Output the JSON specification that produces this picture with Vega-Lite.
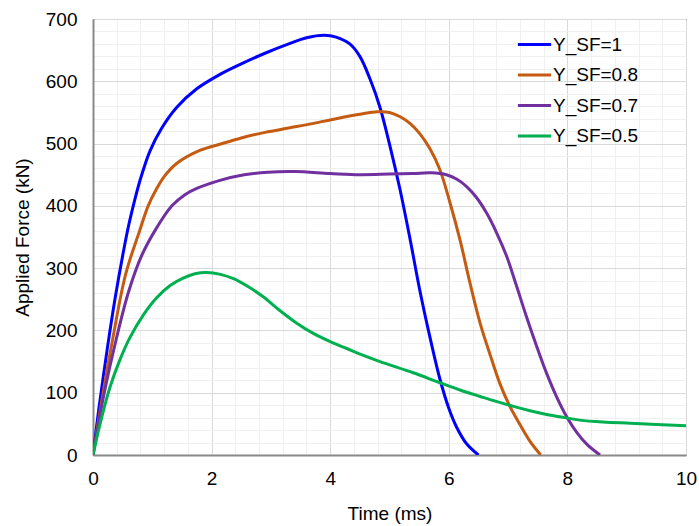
{
  "$schema": "https://vega.github.io/schema/vega-lite/v6.json",
  "width": 593,
  "height": 436,
  "autosize": {"type": "none"},
  "padding": {"left": 93, "top": 19, "right": 13, "bottom": 71},
  "background": "white",
  "config": {
    "view": {"stroke": "#000000", "strokeWidth": 1},
    "font": "Liberation Sans",
    "axis": {"labelFont": "Liberation Sans", "titleFont": "Liberation Sans", "labelColor": "#000000", "titleColor": "#000000", "titleFontWeight": "normal", "labelFlush": false}
  },
  "data": {"values": [
    {"t":0,"F":0,"s":"Y_SF=1"},{"t":0.1,"F":75,"s":"Y_SF=1"},{"t":0.24,"F":170,"s":"Y_SF=1"},{"t":0.37,"F":250,"s":"Y_SF=1"},{"t":0.51,"F":325,"s":"Y_SF=1"},{"t":0.6,"F":368,"s":"Y_SF=1"},{"t":0.7,"F":408,"s":"Y_SF=1"},{"t":0.79,"F":440,"s":"Y_SF=1"},{"t":0.96,"F":488,"s":"Y_SF=1"},{"t":1.16,"F":525,"s":"Y_SF=1"},{"t":1.41,"F":558,"s":"Y_SF=1"},{"t":1.75,"F":588,"s":"Y_SF=1"},{"t":2.14,"F":611,"s":"Y_SF=1"},{"t":2.5,"F":628,"s":"Y_SF=1"},{"t":2.9,"F":645,"s":"Y_SF=1"},{"t":3.3,"F":660,"s":"Y_SF=1"},{"t":3.6,"F":670,"s":"Y_SF=1"},{"t":3.9,"F":674,"s":"Y_SF=1"},{"t":4.1,"F":671,"s":"Y_SF=1"},{"t":4.33,"F":660,"s":"Y_SF=1"},{"t":4.5,"F":640,"s":"Y_SF=1"},{"t":4.67,"F":604,"s":"Y_SF=1"},{"t":4.84,"F":558,"s":"Y_SF=1"},{"t":5.01,"F":495,"s":"Y_SF=1"},{"t":5.18,"F":425,"s":"Y_SF=1"},{"t":5.35,"F":345,"s":"Y_SF=1"},{"t":5.51,"F":265,"s":"Y_SF=1"},{"t":5.68,"F":190,"s":"Y_SF=1"},{"t":5.85,"F":122,"s":"Y_SF=1"},{"t":6.0,"F":75,"s":"Y_SF=1"},{"t":6.13,"F":45,"s":"Y_SF=1"},{"t":6.3,"F":18,"s":"Y_SF=1"},{"t":6.5,"F":0,"s":"Y_SF=1"},
    {"t":0,"F":0,"s":"Y_SF=0.8"},{"t":0.15,"F":88,"s":"Y_SF=0.8"},{"t":0.33,"F":185,"s":"Y_SF=0.8"},{"t":0.55,"F":290,"s":"Y_SF=0.8"},{"t":0.79,"F":361,"s":"Y_SF=0.8"},{"t":0.93,"F":400,"s":"Y_SF=0.8"},{"t":1.07,"F":427,"s":"Y_SF=0.8"},{"t":1.2,"F":447,"s":"Y_SF=0.8"},{"t":1.41,"F":468,"s":"Y_SF=0.8"},{"t":1.8,"F":489,"s":"Y_SF=0.8"},{"t":2.14,"F":499,"s":"Y_SF=0.8"},{"t":2.5,"F":509,"s":"Y_SF=0.8"},{"t":2.9,"F":518,"s":"Y_SF=0.8"},{"t":3.3,"F":525,"s":"Y_SF=0.8"},{"t":3.7,"F":532,"s":"Y_SF=0.8"},{"t":4.1,"F":540,"s":"Y_SF=0.8"},{"t":4.5,"F":547,"s":"Y_SF=0.8"},{"t":4.8,"F":551,"s":"Y_SF=0.8"},{"t":5.0,"F":550,"s":"Y_SF=0.8"},{"t":5.18,"F":543,"s":"Y_SF=0.8"},{"t":5.35,"F":532,"s":"Y_SF=0.8"},{"t":5.51,"F":516,"s":"Y_SF=0.8"},{"t":5.68,"F":492,"s":"Y_SF=0.8"},{"t":5.85,"F":458,"s":"Y_SF=0.8"},{"t":6.02,"F":405,"s":"Y_SF=0.8"},{"t":6.19,"F":345,"s":"Y_SF=0.8"},{"t":6.36,"F":275,"s":"Y_SF=0.8"},{"t":6.53,"F":211,"s":"Y_SF=0.8"},{"t":6.7,"F":160,"s":"Y_SF=0.8"},{"t":6.86,"F":115,"s":"Y_SF=0.8"},{"t":7.03,"F":78,"s":"Y_SF=0.8"},{"t":7.2,"F":49,"s":"Y_SF=0.8"},{"t":7.37,"F":22,"s":"Y_SF=0.8"},{"t":7.55,"F":0,"s":"Y_SF=0.8"},
    {"t":0,"F":0,"s":"Y_SF=0.7"},{"t":0.18,"F":95,"s":"Y_SF=0.7"},{"t":0.39,"F":185,"s":"Y_SF=0.7"},{"t":0.6,"F":262,"s":"Y_SF=0.7"},{"t":0.82,"F":320,"s":"Y_SF=0.7"},{"t":1.05,"F":361,"s":"Y_SF=0.7"},{"t":1.33,"F":400,"s":"Y_SF=0.7"},{"t":1.55,"F":418,"s":"Y_SF=0.7"},{"t":1.75,"F":428,"s":"Y_SF=0.7"},{"t":2.14,"F":441,"s":"Y_SF=0.7"},{"t":2.55,"F":450,"s":"Y_SF=0.7"},{"t":2.95,"F":454,"s":"Y_SF=0.7"},{"t":3.4,"F":455,"s":"Y_SF=0.7"},{"t":4.0,"F":452,"s":"Y_SF=0.7"},{"t":4.5,"F":450,"s":"Y_SF=0.7"},{"t":5.0,"F":451,"s":"Y_SF=0.7"},{"t":5.4,"F":452,"s":"Y_SF=0.7"},{"t":5.7,"F":453,"s":"Y_SF=0.7"},{"t":5.96,"F":450,"s":"Y_SF=0.7"},{"t":6.13,"F":443,"s":"Y_SF=0.7"},{"t":6.3,"F":431,"s":"Y_SF=0.7"},{"t":6.47,"F":413,"s":"Y_SF=0.7"},{"t":6.64,"F":388,"s":"Y_SF=0.7"},{"t":6.81,"F":356,"s":"Y_SF=0.7"},{"t":6.98,"F":318,"s":"Y_SF=0.7"},{"t":7.14,"F":272,"s":"Y_SF=0.7"},{"t":7.31,"F":222,"s":"Y_SF=0.7"},{"t":7.48,"F":175,"s":"Y_SF=0.7"},{"t":7.65,"F":131,"s":"Y_SF=0.7"},{"t":7.82,"F":93,"s":"Y_SF=0.7"},{"t":7.99,"F":61,"s":"Y_SF=0.7"},{"t":8.16,"F":36,"s":"Y_SF=0.7"},{"t":8.33,"F":17,"s":"Y_SF=0.7"},{"t":8.55,"F":0,"s":"Y_SF=0.7"},
    {"t":0,"F":0,"s":"Y_SF=0.5"},{"t":0.14,"F":58,"s":"Y_SF=0.5"},{"t":0.29,"F":110,"s":"Y_SF=0.5"},{"t":0.45,"F":152,"s":"Y_SF=0.5"},{"t":0.62,"F":188,"s":"Y_SF=0.5"},{"t":0.85,"F":225,"s":"Y_SF=0.5"},{"t":1.07,"F":252,"s":"Y_SF=0.5"},{"t":1.3,"F":272,"s":"Y_SF=0.5"},{"t":1.52,"F":284,"s":"Y_SF=0.5"},{"t":1.72,"F":291,"s":"Y_SF=0.5"},{"t":1.92,"F":293,"s":"Y_SF=0.5"},{"t":2.15,"F":290,"s":"Y_SF=0.5"},{"t":2.37,"F":283,"s":"Y_SF=0.5"},{"t":2.62,"F":270,"s":"Y_SF=0.5"},{"t":2.87,"F":254,"s":"Y_SF=0.5"},{"t":3.15,"F":232,"s":"Y_SF=0.5"},{"t":3.43,"F":212,"s":"Y_SF=0.5"},{"t":3.7,"F":196,"s":"Y_SF=0.5"},{"t":4.0,"F":182,"s":"Y_SF=0.5"},{"t":4.28,"F":171,"s":"Y_SF=0.5"},{"t":4.56,"F":160,"s":"Y_SF=0.5"},{"t":4.84,"F":150,"s":"Y_SF=0.5"},{"t":5.4,"F":132,"s":"Y_SF=0.5"},{"t":5.85,"F":116,"s":"Y_SF=0.5"},{"t":6.2,"F":104,"s":"Y_SF=0.5"},{"t":6.53,"F":94,"s":"Y_SF=0.5"},{"t":6.8,"F":86,"s":"Y_SF=0.5"},{"t":7.09,"F":78,"s":"Y_SF=0.5"},{"t":7.37,"F":71,"s":"Y_SF=0.5"},{"t":7.65,"F":65,"s":"Y_SF=0.5"},{"t":7.95,"F":60,"s":"Y_SF=0.5"},{"t":8.21,"F":56,"s":"Y_SF=0.5"},{"t":8.6,"F":53,"s":"Y_SF=0.5"},{"t":9.06,"F":51,"s":"Y_SF=0.5"},{"t":9.5,"F":49,"s":"Y_SF=0.5"},{"t":10,"F":47,"s":"Y_SF=0.5"}
  ]},
  "resolve": {"axis": {"x": "independent", "y": "independent"}},
  "layer": [
    {
      "mark": {"type": "line", "strokeOpacity": 0},
      "encoding": {
        "x": {"field": "t", "type": "quantitative", "scale": {"domain": [0, 10], "nice": false},
          "axis": {"orient": "top", "values": [0.4,0.8,1.2,1.6,2.4,2.8,3.2,3.6,4.4,4.8,5.2,5.6,6.4,6.8,7.2,7.6,8.4,8.8,9.2,9.6], "labels": false, "ticks": false, "domain": false, "title": null, "grid": true, "gridColor": "#f0f0f0", "gridWidth": 1}},
        "y": {"field": "F", "type": "quantitative", "scale": {"domain": [0, 700], "nice": false},
          "axis": {"orient": "right", "values": [20,40,60,80,120,140,160,180,220,240,260,280,320,340,360,380,420,440,460,480,520,540,560,580,620,640,660,680], "labels": false, "ticks": false, "domain": false, "title": null, "grid": true, "gridColor": "#f0f0f0", "gridWidth": 1}}
      }
    },
    {
      "mark": {"type": "line", "interpolate": "catmull-rom", "strokeWidth": 3, "clip": true},
      "encoding": {
        "x": {"field": "t", "type": "quantitative", "scale": {"domain": [0, 10], "nice": false},
          "axis": {"orient": "bottom", "values": [0,2,4,6,8,10], "title": "Time (ms)", "titleFontSize": 19, "titlePadding": 16, "labelFontSize": 19, "labelPadding": 14, "ticks": false, "tickSize": 0, "domainColor": "#898989", "domainWidth": 2, "grid": true, "gridColor": "#d9d9d9", "gridWidth": 1}},
        "y": {"field": "F", "type": "quantitative", "scale": {"domain": [0, 700], "nice": false},
          "axis": {"orient": "left", "values": [0,100,200,300,400,500,600,700], "title": "Applied Force (kN)", "titleFontSize": 19, "titlePadding": 13, "labelFontSize": 19, "labelPadding": 16, "ticks": false, "tickSize": 0, "domainColor": "#898989", "domainWidth": 2, "grid": true, "gridColor": "#d9d9d9", "gridWidth": 1}},
        "color": {"field": "s", "type": "nominal", "sort": ["Y_SF=1", "Y_SF=0.8", "Y_SF=0.7", "Y_SF=0.5"],
          "scale": {"domain": ["Y_SF=1", "Y_SF=0.8", "Y_SF=0.7", "Y_SF=0.5"], "range": ["#0000FF", "#C55A11", "#7030A0", "#00B050"]},
          "legend": {"title": null, "orient": "none", "legendX": 423, "legendY": 7, "symbolType": "stroke", "symbolSize": 1100, "symbolStrokeWidth": 3, "labelFontSize": 19, "labelFont": "Liberation Sans", "labelColor": "#000000", "labelOffset": 0, "rowPadding": 1.5, "padding": 0}}
      }
    }
  ]
}
